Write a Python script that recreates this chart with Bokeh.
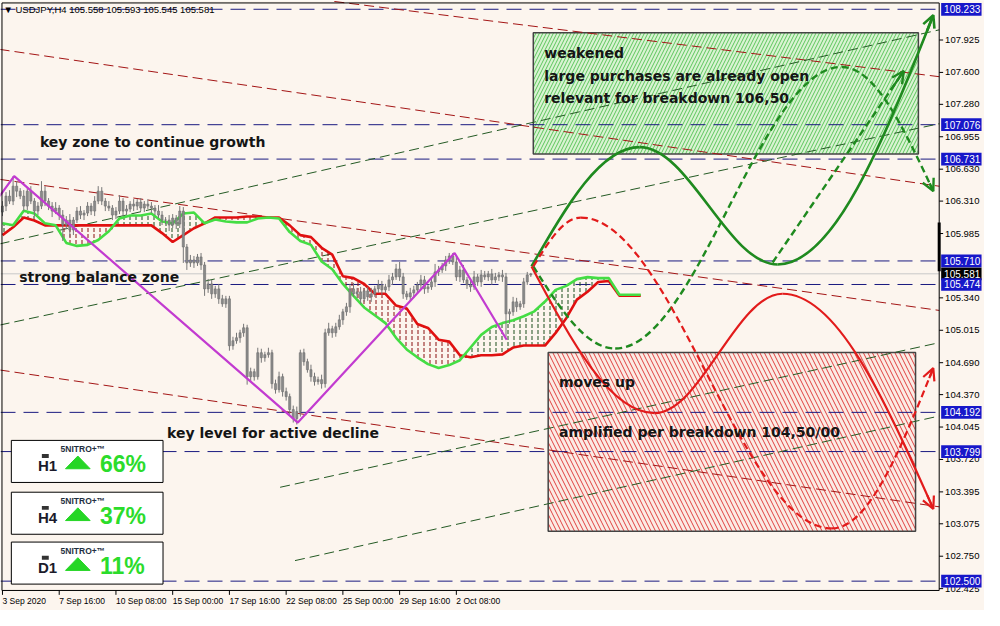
import numpy as np
from bokeh.plotting import figure
from bokeh.models import Range1d, Arrow, OpenHead
from bokeh.core.properties import value
from bokeh.embed import file_html
from bokeh.resources import INLINE

# ---------------- data ----------------
first_open = 106.20
closes = [
    106.26, 106.36, 106.31, 106.46, 106.41, 106.36, 106.26, 106.41, 106.31, 106.21,
    106.26, 106.41, 106.31, 106.26, 106.21, 106.24, 106.17, 106.07, 106.12, 106.02,
    106.12, 106.21, 106.17, 106.19, 106.26, 106.21, 106.31, 106.41, 106.31, 106.26,
    106.24, 106.17, 106.21, 106.31, 106.21, 106.23, 106.28, 106.26, 106.30, 106.24,
    106.28, 106.26, 106.24, 106.21, 106.17, 106.12, 106.12, 106.07, 106.14, 106.08,
    106.21, 105.85, 105.69, 105.72, 105.69, 105.75, 105.67, 105.43, 105.48, 105.38,
    105.43, 105.33, 105.28, 105.33, 104.86, 104.91, 104.94, 104.99, 105.04, 104.55,
    104.60, 104.55, 104.79, 104.74, 104.77, 104.79, 104.48, 104.42, 104.55, 104.40,
    104.35, 104.22, 104.13, 104.20, 104.79, 104.70, 104.62, 104.55, 104.50, 104.52,
    104.48, 104.99, 105.03, 104.99, 105.05, 105.12, 105.20, 105.25, 105.43, 105.38,
    105.40, 105.33, 105.41, 105.35, 105.38, 105.43, 105.47, 105.42, 105.45, 105.52,
    105.55, 105.63, 105.55, 105.38, 105.35, 105.39, 105.42, 105.47, 105.52, 105.43,
    105.45, 105.50, 105.60, 105.62, 105.66, 105.72, 105.76, 105.70, 105.55, 105.62,
    105.52, 105.47, 105.45, 105.55, 105.50, 105.57, 105.55, 105.58, 105.52, 105.55,
    105.57, 105.55, 105.18, 105.20, 105.30, 105.25, 105.28, 105.50, 105.57, 105.58]
wick_up = [
    0.05, 0.04, 0.06, 0.10, 0.05, 0.03, 0.06, 0.04, 0.05, 0.03,
    0.04, 0.10, 0.05, 0.03, 0.04, 0.06, 0.03, 0.05, 0.04, 0.06,
    0.03, 0.04, 0.05, 0.03, 0.04, 0.03, 0.05, 0.05, 0.04, 0.03,
    0.05, 0.03, 0.04, 0.06, 0.03, 0.04, 0.03, 0.05, 0.03, 0.04,
    0.03, 0.05, 0.04, 0.03, 0.06, 0.04, 0.03, 0.05, 0.04, 0.03,
    0.05, 0.04, 0.03, 0.05, 0.04, 0.03, 0.04, 0.03, 0.05, 0.04,
    0.03, 0.05, 0.04, 0.03, 0.03, 0.04, 0.05, 0.03, 0.04, 0.03,
    0.04, 0.03, 0.05, 0.04, 0.03, 0.05, 0.03, 0.04, 0.05, 0.03,
    0.04, 0.03, 0.04, 0.05, 0.03, 0.04, 0.03, 0.05, 0.04, 0.03,
    0.05, 0.04, 0.06, 0.03, 0.04, 0.05, 0.03, 0.04, 0.05, 0.06,
    0.04, 0.05, 0.03, 0.04, 0.06, 0.03, 0.05, 0.04, 0.03, 0.05,
    0.04, 0.05, 0.07, 0.04, 0.03, 0.05, 0.04, 0.03, 0.05, 0.04,
    0.03, 0.05, 0.08, 0.04, 0.03, 0.04, 0.03, 0.03, 0.05, 0.04,
    0.05, 0.03, 0.04, 0.06, 0.03, 0.05, 0.04, 0.03, 0.05, 0.04,
    0.03, 0.05, 0.04, 0.03, 0.05, 0.04, 0.03, 0.04, 0.03, 0.01]
wick_dn = [
    0.04, 0.05, 0.03, 0.04, 0.06, 0.03, 0.05, 0.04, 0.03, 0.05,
    0.04, 0.03, 0.05, 0.04, 0.06, 0.03, 0.05, 0.16, 0.04, 0.07,
    0.05, 0.03, 0.04, 0.05, 0.03, 0.04, 0.05, 0.03, 0.04, 0.05,
    0.03, 0.05, 0.04, 0.03, 0.05, 0.04, 0.03, 0.05, 0.04, 0.03,
    0.04, 0.03, 0.05, 0.04, 0.03, 0.05, 0.04, 0.06, 0.03, 0.05,
    0.04, 0.16, 0.07, 0.04, 0.05, 0.03, 0.05, 0.07, 0.04, 0.05,
    0.04, 0.05, 0.03, 0.04, 0.05, 0.04, 0.03, 0.05, 0.04, 0.08,
    0.05, 0.04, 0.03, 0.05, 0.04, 0.03, 0.05, 0.04, 0.03, 0.05,
    0.04, 0.05, 0.04, 0.06, 0.05, 0.04, 0.03, 0.05, 0.04, 0.03,
    0.05, 0.04, 0.03, 0.05, 0.04, 0.03, 0.05, 0.04, 0.06, 0.03,
    0.04, 0.05, 0.03, 0.04, 0.05, 0.03, 0.04, 0.05, 0.03, 0.04,
    0.05, 0.03, 0.04, 0.05, 0.03, 0.04, 0.05, 0.03, 0.04, 0.05,
    0.04, 0.03, 0.05, 0.04, 0.03, 0.05, 0.04, 0.03, 0.04, 0.05,
    0.03, 0.04, 0.05, 0.03, 0.04, 0.05, 0.03, 0.04, 0.05, 0.03,
    0.04, 0.05, 0.23, 0.10, 0.04, 0.05, 0.03, 0.04, 0.03, 0.02]

time_ticks = [0, 16, 32, 48, 64, 80, 96, 112, 128]
time_labels = ["3 Sep 2020", "7 Sep 16:00", "10 Sep 08:00", "15 Sep 00:00", "17 Sep 16:00",
               "22 Sep 08:00", "25 Sep 00:00", "29 Sep 16:00", "2 Oct 08:00"]
price_ticks = [107.925, 107.600, 107.280, 106.955, 106.630, 106.310, 105.985, 105.340,
               105.015, 104.690, 104.370, 104.045, 103.720, 103.395, 103.075, 102.750, 102.425]
levels = [108.233, 107.076, 106.731, 105.710, 105.474, 104.192, 103.799, 102.500]
last_price = 105.581
title_text = "\u25bc USDJPY,H4  105.558 105.593 105.545 105.581"

cloud_x = list(range(0, 181, 3))
span_b = [105.969, 106.048, 106.146, 106.116, 106.067, 106.067, 106.067, 106.067, 106.067, 106.067,
          106.067, 106.067, 106.067, 106.067, 106.067, 105.989, 105.900, 105.969, 106.038, 106.087,
          106.146, 106.146, 106.146, 106.155, 106.155, 106.146, 106.146, 106.067, 105.969, 105.949,
          105.842, 105.773, 105.557, 105.538, 105.479, 105.381, 105.381, 105.263, 105.234, 105.077,
          105.038, 104.921, 104.901, 104.764, 104.744, 104.764, 104.764, 104.773, 104.842, 104.862,
          104.862, 104.862, 104.989, 105.136, 105.322, 105.401, 105.499, 105.509, 105.361, 105.361,
          105.361]
span_a = [106.087, 106.067, 106.214, 106.185, 106.087, 106.067, 105.891, 105.861, 105.871, 105.920,
          106.008, 106.136, 106.165, 106.165, 106.185, 106.106, 106.087, 106.185, 106.195, 106.087,
          106.126, 106.106, 106.097, 106.097, 106.136, 106.146, 106.136, 105.999, 105.910, 105.871,
          105.705, 105.626, 105.479, 105.361, 105.244, 105.165, 105.087, 104.940, 104.823, 104.744,
          104.676, 104.636, 104.666, 104.715, 104.842, 104.969, 105.048, 105.087, 105.116, 105.156,
          105.205, 105.303, 105.420, 105.460, 105.528, 105.548, 105.538, 105.538, 105.371, 105.371,
          105.371]

zigzag_x = [-0.8, 3.3, 83.3, 127.5, 142.2]
zigzag_y = [106.361, 106.56, 104.09, 105.79, 104.92]

# trend lines: (bar0, price0, bar1, price1)
red_trends = [(93.6, 108.311, 264.2, 107.557),
              (-0.8, 107.831, 264.2, 106.459),
              (-0.8, 106.528, 264.2, 105.214),
              (-0.8, 104.617, 264.2, 103.245)]
green_trends = [(-0.8, 105.881, 264.2, 108.027),
                (-0.8, 105.067, 264.2, 107.086),
                (78.3, 103.441, 264.2, 104.891),
                (82.5, 102.706, 264.2, 104.156)]

# scenario waypoints (bar, price): start, extremes..., end
bull_main_x = [149.2, 179.7, 218.6, 262.5]
bull_main_y = [105.655, 106.851, 105.675, 108.174]
bull_alt_x = [149.7, 172.8, 236.7, 262.5]
bull_alt_y = [105.655, 104.832, 107.655, 106.410]
bull_direct_x = [217.2, 254.2]
bull_direct_y = [105.695, 107.615]
bear_main_x = [149.2, 183.9, 220.0, 262.5]
bear_main_y = [105.655, 104.185, 105.381, 103.225]
bear_alt_x = [149.7, 163.1, 233.9, 262.5]
bear_alt_y = [105.655, 106.145, 103.029, 104.636]

buy_zone = (149.7, 258.3, 107.998, 106.783)
sell_zone = (153.9, 257.5, 104.793, 103.000)

panel_frames = ["H1", "H4", "D1"]
panel_values = ["66%", "37%", "11%"]

# ---------------- helpers (layout only) ----------------
BG = "#fcf5ee"
def X(px):
    return (px - 3.0) / 3.6
def Y(py):
    return 108.321 - 0.0098 * py

XL, XR = X(1), X(1000)
YB, YT = Y(624), Y(0)
XE = X(954)  # right edge of the price area

p = figure(width=984, height=610, output_backend="svg", toolbar_location=None,
           x_range=Range1d(XL, XR), y_range=Range1d(YB, YT),
           x_axis_location=None, y_axis_location=None,
           min_border_left=0, min_border_top=0, min_border_right=0, min_border_bottom=0)
p.background_fill_color = BG
p.border_fill_color = BG
p.outline_line_color = None
p.grid.visible = False

AX_FONT = "Liberation Sans"

# zones
bx0, bx1, by1, by0 = buy_zone
p.quad(left=[bx0], right=[bx1], top=[by1], bottom=[by0], fill_color="#d9f3d2", fill_alpha=1,
       hatch_pattern="/", hatch_color="#5cc55c", hatch_scale=7, hatch_weight=1,
       line_color="#444444", line_width=1.5)
sx0, sx1, sy1, sy0 = sell_zone
p.quad(left=[sx0], right=[sx1], top=[sy1], bottom=[sy0], fill_color="#fbebe4", fill_alpha=1,
       hatch_pattern="\\", hatch_color="#e04040", hatch_scale=9, hatch_weight=1,
       line_color="#444444", line_width=1.5)

# levels
p.segment(x0=[XL], y0=[last_price], x1=[XE], y1=[last_price], line_color="#c8c8c8", line_width=1)
p.segment(x0=[XL] * len(levels), y0=levels, x1=[XE] * len(levels), y1=levels,
          line_color="#1a1a80", line_width=1, line_dash="15 8")

# trend lines
for (a, b, c, d) in red_trends:
    p.line([a, c], [b, d], line_color="#a31515", line_width=1, line_dash="10 5")
for (a, b, c, d) in green_trends:
    p.line([a, c], [b, d], line_color="#245a24", line_width=1, line_dash="10 5")

# ichimoku cloud
sa = np.array(span_a)
sb = np.array(span_b)
low = np.minimum(sa, sb)
p.varea(x=cloud_x, y1=sb, y2=low, fill_color=None, hatch_pattern=":",
        hatch_color="#8b1010", hatch_scale=6, hatch_weight=1)
p.varea(x=cloud_x, y1=sa, y2=low, fill_color=None, hatch_pattern=":",
        hatch_color="#1c4d1c", hatch_scale=6, hatch_weight=1)
p.line(cloud_x, span_b, line_color="#e01010", line_width=2.6)
p.line(cloud_x, span_a, line_color="#44dd44", line_width=2.6)

# candles
c = np.array(closes)
o = np.concatenate([[first_open], c[:-1]])
top = np.maximum(o, c)
bot = np.minimum(o, c)
hi = top + np.array(wick_up)
lo = bot - np.array(wick_dn)
idx = np.arange(len(closes))
p.segment(idx, hi, idx, lo, line_color="#777777", line_width=1)
p.vbar(x=idx, width=0.6, top=top, bottom=bot, fill_color="#8a8a8a", line_color="#707070", line_width=0.6)

# zigzag
p.line(zigzag_x, zigzag_y, line_color="#c23bd0", line_width=2.2)

# scenarios
def wave(xs, ys):
    seg = dict(x0=[], y0=[], x1=[], y1=[], cx0=[], cy0=[], cx1=[], cy1=[])
    n = len(xs)
    tan = (0, 0)
    for j in range(n - 1):
        x0, y0, x1, y1 = xs[j], ys[j], xs[j + 1], ys[j + 1]
        dx, dy = x1 - x0, y1 - y0
        if j == 0:
            c0 = (x0 + 0.33 * dx, y0 + 0.52 * dy)
        else:
            c0 = (x0 + 0.36 * dx, y0)
        if j == n - 2:
            c1 = (x1 - 0.33 * dx, y1 - 0.52 * dy)
            tan = (0.33 * dx, 0.52 * dy)
        else:
            c1 = (x1 - 0.36 * dx, y1)
        seg["x0"].append(x0); seg["y0"].append(y0)
        seg["x1"].append(x1); seg["y1"].append(y1)
        seg["cx0"].append(c0[0]); seg["cy0"].append(c0[1])
        seg["cx1"].append(c1[0]); seg["cy1"].append(c1[1])
    return seg, tan

def draw_wave(xs, ys, color, dash, width):
    seg, tan = wave(xs, ys)
    p.bezier(line_color=color, line_width=width, line_dash=dash, **seg)
    xe, ye = xs[-1], ys[-1]
    p.add_layout(Arrow(end=OpenHead(size=12, line_color=color, line_width=width),
                       x_start=xe - 0.12 * tan[0], y_start=ye - 0.12 * tan[1],
                       x_end=xe, y_end=ye, line_color=color, line_width=width))

GREEN = "#1f8a1f"
RED = "#e21b1b"
draw_wave(bull_main_x, bull_main_y, GREEN, "solid", 2.6)
draw_wave(bull_alt_x, bull_alt_y, GREEN, "7 4", 2.4)
draw_wave(bear_main_x, bear_main_y, RED, "solid", 2.2)
draw_wave(bear_alt_x, bear_alt_y, RED, "7 4", 2.2)
p.line(bull_direct_x, bull_direct_y, line_color=GREEN, line_width=2.4, line_dash="7 4")
p.add_layout(Arrow(end=OpenHead(size=12, line_color=GREEN, line_width=2.4),
                   x_start=bull_direct_x[1] - 0.1 * (bull_direct_x[1] - bull_direct_x[0]),
                   y_start=bull_direct_y[1] - 0.1 * (bull_direct_y[1] - bull_direct_y[0]),
                   x_end=bull_direct_x[1], y_end=bull_direct_y[1],
                   line_color=GREEN, line_width=2.4))

# annotation texts
NOTE_FONT = value("DejaVu Sans")
notes_x = [X(41), X(20), X(170), X(553), X(553), X(553), X(568), X(568)]
notes_y = [Y(145), Y(283), Y(442), Y(54), Y(77), Y(100), Y(390), Y(441)]
notes_t = ["key zone to continue growth", "strong balance zone", "key level for active decline",
           "weakened", "large purchases are already open", "relevant for breakdown 106,50",
           "moves up", "amplified per breakdown 104,50/00"]
p.text(x=notes_x, y=notes_y, text=notes_t, text_font=NOTE_FONT, text_font_style="bold",
       text_font_size="14px", text_color="#151515", text_baseline="middle", text_align="left")

# title
p.text(x=[X(4)], y=[Y(9)], text=[title_text], text_font=value(AX_FONT), text_font_size="9.5px",
       text_color="black", text_baseline="middle", text_align="left")

# indicator panels
tops = [450, 503, 554]
for t, fr, val in zip(tops, panel_frames, panel_values):
    p.quad(left=[X(12)], right=[X(166)], top=[Y(t)], bottom=[Y(t + 43)], fill_color="white",
           line_color="black", line_width=1)
    p.quad(left=[X(43)], right=[X(50)], top=[Y(t + 14)], bottom=[Y(t + 18)], fill_color="#333333",
           line_color=None)
    p.text(x=[X(39)], y=[Y(t + 26)], text=[fr], text_font=value("Liberation Sans"),
           text_font_style="bold", text_font_size="15px", text_color="#1b1b2b",
           text_baseline="middle", text_align="left")
    p.text(x=[X(62)], y=[Y(t + 9)], text=["5NITRO+\u2122"], text_font=value("Liberation Sans"),
           text_font_style="bold", text_font_size="8.5px", text_color="#1f2f3f",
           text_baseline="middle", text_align="left")
    p.patches(xs=[[X(67), X(79.5), X(92)]], ys=[[Y(t + 29), Y(t + 16), Y(t + 29)]],
              fill_color="#25d625", line_color="#25d625")
    p.text(x=[X(102)], y=[Y(t + 24)], text=[val], text_font=value("Liberation Sans"),
           text_font_style="bold", text_font_size="23px", text_color="#2bdc2b",
           text_baseline="middle", text_align="left")

# ---- scales drawn around the price area ----
p.quad(left=[X(954.5)], right=[XR], top=[YT], bottom=[YB], fill_color=BG, line_color=None)
p.quad(left=[XL], right=[XR], top=[Y(604)], bottom=[YB], fill_color=BG, line_color=None)
# frame border of the price area
p.line([X(2.5), XE, XE, X(2.5), X(2.5)], [Y(2.5), Y(2.5), Y(603.5), Y(603.5), Y(2.5)],
       line_color="black", line_width=1)
p.segment(x0=[XE], y0=[Y(227)], x1=[XE], y1=[Y(277)], line_color="black", line_width=3)
# time scale
p.segment(x0=time_ticks, y0=[Y(603.5)] * len(time_ticks), x1=time_ticks,
          y1=[Y(608)] * len(time_ticks), line_color="black", line_width=1)
p.text(x=time_ticks, y=[Y(614)] * len(time_ticks), text=time_labels,
       text_font=value(AX_FONT), text_font_size="8.5px", text_color="black",
       text_baseline="middle", text_align="left")
# price scale
p.segment(x0=[XE] * len(price_ticks), y0=price_ticks, x1=[X(958)] * len(price_ticks), y1=price_ticks,
          line_color="black", line_width=1)
p.text(x=[X(960)] * len(price_ticks), y=price_ticks, text=[f"{v:.3f}" for v in price_ticks],
       text_font=value(AX_FONT), text_font_size="9.5px", text_color="black",
       text_baseline="middle", text_align="left")
# current price marker and level markers
hh = 6.5 * 0.0098
p.quad(left=[X(956)], right=[X(997)], top=[last_price + hh], bottom=[last_price - hh],
       fill_color="black", line_color=None)
p.text(x=[X(959)], y=[last_price], text=[f"{last_price:.3f}"], text_font=value(AX_FONT),
       text_font_size="10px", text_color="white", text_baseline="middle", text_align="left")
p.quad(left=[X(956)] * len(levels), right=[X(997)] * len(levels),
       top=[v + hh for v in levels], bottom=[v - hh for v in levels],
       fill_color="#1717c9", line_color=None)
p.text(x=[X(959)] * len(levels), y=levels, text=[f"{v:.3f}" for v in levels],
       text_font=value(AX_FONT), text_font_size="10px", text_color="white",
       text_baseline="middle", text_align="left")

open("out.html", "w").write(file_html(p, INLINE))
